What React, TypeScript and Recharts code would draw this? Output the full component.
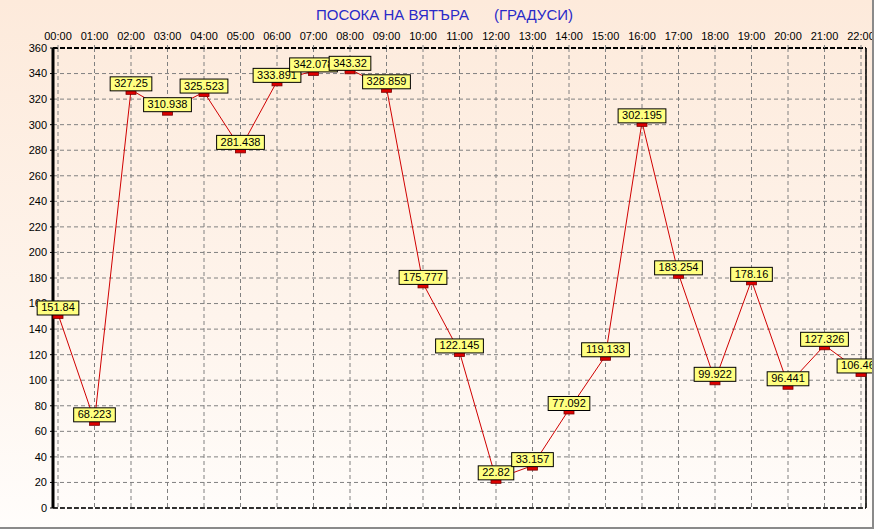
import React from "react";
import {
  LineChart,
  Line,
  XAxis,
  YAxis,
  CartesianGrid,
  LabelList,
  ReferenceLine,
} from "recharts";

// hourly readings, wind direction in degrees
const hours = [
  "00:00", "01:00", "02:00", "03:00", "04:00", "05:00", "06:00", "07:00",
  "08:00", "09:00", "10:00", "11:00", "12:00", "13:00", "14:00", "15:00",
  "16:00", "17:00", "18:00", "19:00", "20:00", "21:00", "22:00",
];

const direction = [
  151.84, 68.223, 327.25, 310.938, 325.523, 281.438, 333.891, 342.078,
  343.32, 328.859, 175.777, 122.145, 22.82, 33.157, 77.092, 119.133,
  302.195, 183.254, 99.922, 178.16, 96.441, 127.326, 106.467,
];

const yTicks = [
  0, 20, 40, 60, 80, 100, 120, 140, 160, 180, 200, 220, 240, 260, 280, 300,
  320, 340, 360,
];

const TITLE = "ПОСОКА НА ВЯТЪРА      (ГРАДУСИ)";

const FONT = "'Liberation Sans', Arial, sans-serif";

const data = hours.map((hour, i) => ({ hour, value: direction[i] }));

// rough text width for 11px Arial-like digits
function textWidth(s: string): number {
  let w = 0;
  for (const ch of s) w += ch === "." ? 3.06 : 6.12;
  return w;
}

const ValueBox = (props: any) => {
  const { x, y, value } = props;
  if (x == null || y == null) return null;
  const label = String(value);
  const w = textWidth(label) + 8;
  const h = 14;
  return (
    <g>
      <rect
        x={x - w / 2}
        y={y - h + 1}
        width={w}
        height={h}
        fill="#ffff80"
        stroke="#000"
        strokeWidth={1}
      />
      <text
        x={x}
        y={y - 2.5}
        textAnchor="middle"
        fontSize={11}
        fontFamily={FONT}
        fill="#000"
      >
        {label}
      </text>
    </g>
  );
};

const Marker = (props: any) => {
  const { cx, cy, index } = props;
  if (cx == null || cy == null) return <g key={`m-${index}`} />;
  return (
    <rect
      key={`m-${index}`}
      x={cx - 5}
      y={cy}
      width={10}
      height={4.5}
      fill="#dd0000"
      stroke="#7a0000"
      strokeWidth={0.8}
    />
  );
};

export default function App() {
  return (
    <div
      style={{
        position: "absolute",
        left: 0,
        top: 0,
        width: 874,
        height: 529,
        boxSizing: "border-box",
        borderRight: "2px solid #8a8a8a",
        borderBottom: "2px solid #8a8a8a",
        background: "linear-gradient(to bottom, #fdeadb 0%, #fef4ec 60%, #fffdfb 100%)",
        fontFamily: FONT,
      }}
    >
      <div
        style={{
          position: "absolute",
          top: 5,
          left: 444.5,
          transform: "translateX(-50%)",
          whiteSpace: "pre",
          fontSize: 15,
          lineHeight: "20px",
          color: "#2a2ac8",
        }}
      >
        {TITLE}
      </div>
      <LineChart
        width={872}
        height={527}
        data={data}
        margin={{ top: 28, right: 5, bottom: 19, left: 0 }}
      >
        <CartesianGrid
          yAxisId="left"
          stroke="#808080"
          strokeDasharray="4 3"
        />
        <XAxis
          dataKey="hour"
          orientation="top"
          height={20}
          interval={0}
          padding={{ left: 5, right: 5 }}
          tick={{ fontSize: 11, fill: "#000", fontFamily: FONT }}
          tickSize={3}
          tickMargin={5}
          tickLine={{ stroke: "#808080" }}
          axisLine={{ stroke: "#000", strokeWidth: 2, strokeDasharray: "5 2" }}
        />
        <YAxis
          yAxisId="left"
          width={53}
          domain={[0, 360]}
          ticks={yTicks}
          interval={0}
          tick={{ fontSize: 11, fill: "#000", fontFamily: FONT }}
          tickSize={3}
          tickMargin={3}
          tickLine={{ stroke: "#000" }}
          axisLine={{ stroke: "#000", strokeWidth: 3 }}
        />
        <YAxis
          yAxisId="right"
          orientation="right"
          width={1}
          domain={[0, 360]}
          tick={false}
          tickLine={false}
          axisLine={{ stroke: "#000", strokeWidth: 1.5 }}
        />
        <ReferenceLine
          yAxisId="left"
          y={0}
          stroke="#000"
          strokeWidth={1.5}
          strokeDasharray="5 2"
        />
        <Line
          yAxisId="left"
          type="linear"
          dataKey="value"
          stroke="#d00000"
          strokeWidth={1}
          dot={Marker}
          activeDot={false}
          isAnimationActive={false}
        >
          <LabelList dataKey="value" content={ValueBox} />
        </Line>
      </LineChart>
    </div>
  );
}
